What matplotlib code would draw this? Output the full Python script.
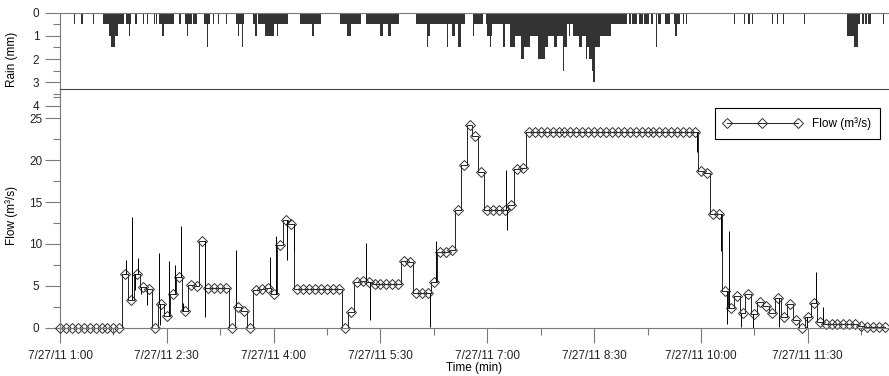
import matplotlib
matplotlib.use("Agg")
import matplotlib.pyplot as plt
import numpy as np
from matplotlib.ticker import MultipleLocator, FuncFormatter
from datetime import datetime, timedelta

plt.rcParams['font.family'] = ['Liberation Sans', 'DejaVu Sans']
plt.rcParams['font.size'] = 8

start = datetime(2011, 7, 27, 1, 0)
t_end = 698.4  # minutes after 1:00 shown on the axis

# flow (m3/s), one value every 5 min from 1:00
flow = [0, 0, 0, 0, 0, 0, 0, 0, 0, 0, 0,
        6.4, 3.3, 6.4, 4.8, 4.6, 0, 2.8, 1.4, 4.0, 6.0, 2.0, 5.1, 5.0, 10.3,
        4.7, 4.7, 4.7, 4.7, 0, 2.5, 2.0, 0, 4.5, 4.6, 4.7, 4.0, 9.9, 12.8, 12.4,
        4.6, 4.6, 4.6, 4.6, 4.6, 4.6, 4.6, 4.6, 0, 1.9, 5.5, 5.6, 5.4,
        5.2, 5.2, 5.2, 5.2, 5.2, 8.0, 7.8, 4.2, 4.2, 4.2, 5.5, 9.0, 9.0, 9.3,
        14.0, 19.4, 24.2, 22.9, 18.6, 14.1, 14.1, 14.1, 14.1, 14.6, 19.0, 19.1,
        23.4, 23.4, 23.4, 23.4, 23.4, 23.4, 23.4, 23.4, 23.4, 23.4,
        23.4, 23.4, 23.4, 23.4, 23.4, 23.4, 23.4, 23.4, 23.4, 23.4,
        23.4, 23.4, 23.4, 23.4, 23.4, 23.4, 23.4, 23.4, 23.4,
        18.7, 18.5, 13.6, 13.6, 4.4, 2.4, 3.8, 1.7, 4.0, 1.6, 3.1, 2.6, 1.7,
        3.5, 1.3, 2.8, 0.9, 0, 1.3, 2.9, 0.7,
        0.4, 0.4, 0.4, 0.4, 0.45, 0.5, 0.15, 0.1, 0.1, 0.1, 0.1]

# short peaks of the flow record between the 5 min values
spike_min = [56, 61, 63, 66, 68, 73, 83, 84, 92, 97, 102, 104, 122,
             148, 177, 182, 191, 197, 258, 261, 312, 317, 376, 377,
             537, 557, 562, 564, 574, 584, 606, 629, 637, 643]
spike_val = [8.1, 13.2, 4.5, 8.3, 4.0, 2.7, 8.9, 0.3, 8.0, 7.5, 12.1, 3.0, 1.3,
             9.3, 8.5, 11.0, 8.1, 9.0, 10.1, 0.9, 0.1, 10.3, 18.8, 11.7,
             21.0, 9.1, 0.5, 11.5, 0.1, 0.0, 0.1, 0.0, 6.6, 2.5]

# rain (mm per minute): start minute, end minute, depth
rain_start = [12, 18, 28, 36, 41, 43, 46, 56, 58, 63, 70, 73, 79, 81, 83, 86,
              100, 105, 107, 112, 121, 124, 129, 133, 140, 148, 150, 153,
              163, 164, 167, 173, 183, 202, 212, 236, 242, 258, 270, 276,
              300, 309, 309, 326, 330, 335, 348, 348, 359, 360, 362, 373,
              379, 383, 388, 391, 396, 403, 409, 411, 416, 419, 424, 425,
              427, 429, 432, 437, 440, 443, 444, 446, 448, 449, 451, 455, 464,
              474, 479, 482, 488, 492, 498, 502, 504, 510, 517, 518, 525, 527,
              568, 576, 580, 583, 600, 604, 609, 627,
              663, 669, 672, 676, 678, 681, 693]
rain_end = [13, 19, 29, 54, 43, 46, 49, 60, 59, 65, 71, 74, 80, 82, 96, 88,
            102, 111, 108, 115, 126, 125, 130, 134, 141, 155, 151, 154,
            166, 166, 192, 180, 184, 220, 214, 254, 245, 286, 272, 279,
            341, 312, 310, 327, 333, 338, 356, 349, 379, 364, 363, 375,
            383, 388, 391, 396, 403, 409, 411, 416, 419, 424, 425, 427,
            432, 430, 437, 440, 443, 444, 446, 448, 449, 451, 455, 464, 474,
            478, 481, 486, 491, 496, 500, 503, 506, 514, 522, 520, 526, 528,
            569, 577, 581, 584, 601, 605, 610, 628,
            672, 672, 674, 677, 680, 683, 694]
rain_mm = [0.5, 0.5, 0.5, 0.5, 1.0, 1.5, 1.0, 0.5, 1.0, 0.5, 0.5, 0.5, 0.5, 0.5, 0.5, 1.0,
           0.5, 0.5, 1.0, 0.5, 0.5, 1.5, 0.5, 0.5, 0.5, 0.5, 1.0, 1.5,
           0.5, 1.0, 0.5, 1.0, 1.0, 0.5, 1.0, 0.5, 1.0, 0.5, 1.0, 1.0,
           0.5, 1.0, 1.5, 1.5, 1.0, 1.5, 0.5, 1.0, 0.5, 1.0, 1.5, 1.5,
           1.5, 1.0, 2.0, 1.5, 1.0, 2.0, 1.5, 1.0, 1.5, 1.0, 2.5, 1.5,
           0.5, 1.0, 1.0, 1.5, 1.0, 2.0, 1.5, 2.0, 2.5, 3.0, 1.5, 1.0, 0.5,
           0.5, 0.5, 0.5, 0.5, 0.5, 0.5, 1.5, 0.5, 0.5, 0.5, 1.0, 0.5, 0.5,
           0.5, 0.5, 0.5, 0.5, 0.5, 0.5, 0.5, 0.5,
           1.0, 1.5, 0.5, 0.5, 0.5, 0.5, 0.5]

# ---- build series
t5 = np.arange(len(flow)) * 5
flow_arr = np.array(flow)
spike_t = np.array(spike_min)
spike_base = flow_arr[np.clip(np.round(spike_t / 5).astype(int), 0, len(flow) - 1)]

rain_t = np.arange(700)
rain = np.zeros(700)
for s, e, v in zip(rain_start, rain_end, rain_mm):
    rain[s:e] = np.maximum(rain[s:e], v)

grey = '#7a7a7a'
W, H = 889, 376
fig = plt.figure(figsize=(W / 100, H / 100), dpi=100)
ax_r = fig.add_axes([60 / W, 1 - 105.7 / H, 829 / W, 93.2 / H])
ax_f = fig.add_axes([60 / W, 1 - 327.7 / H, 829 / W, 238.7 / H])
ax_f.set_zorder(2)

# rain panel
ax_r.bar(rain_t[rain > 0], rain[rain > 0], width=1, align='edge',
         color='#333333', linewidth=0)
ax_r.set_xlim(0, t_end)
ax_r.set_ylim(4, 0)
ax_r.yaxis.set_major_locator(MultipleLocator(1))
ax_r.yaxis.set_minor_locator(MultipleLocator(0.5))
ax_r.set_xticks([])
for s in ['right', 'bottom']:
    ax_r.spines[s].set_visible(False)
for s in ['top', 'left']:
    ax_r.spines[s].set_color(grey)
ax_r.set_ylabel('Rain (mm)', fontsize=8.5)
ax_r.yaxis.set_label_coords(-0.051, 0.5)

# flow panel
ax_f.plot(t5, flow_arr, color='black', lw=0.6, drawstyle='steps-mid',
          marker='D', ms=5.3, mfc='none', mec='#333333',
          mew=0.7, clip_on=False, label='Flow (m³/s)')
ax_f.vlines(spike_t, spike_base, spike_val, color='black', lw=0.7)
ax_f.set_xlim(0, t_end)
ax_f.set_ylim(0, 28.5)
ax_f.yaxis.set_major_locator(MultipleLocator(5))
ax_f.yaxis.set_minor_locator(MultipleLocator(2.5))
ax_f.xaxis.set_major_locator(MultipleLocator(90))
ax_f.xaxis.set_minor_locator(MultipleLocator(45))


def fmt(v, pos):
    d = start + timedelta(minutes=float(v))
    return f"{d.month}/{d.day}/{d.year % 100} {d.hour}:{d.minute:02d}"


ax_f.xaxis.set_major_formatter(FuncFormatter(fmt))
ax_f.spines['right'].set_visible(False)
ax_f.spines['top'].set_color('#444444')
for s in ['left', 'bottom']:
    ax_f.spines[s].set_color(grey)
ax_f.set_ylabel('Flow (m³/s)', fontsize=8.5)
ax_f.yaxis.set_label_coords(-0.051, 0.47)
ax_f.set_xlabel('Time (min)', fontsize=8.5, labelpad=0)

for ax in (ax_r, ax_f):
    ax.tick_params(which='major', length=10.8, width=0.8, color=grey,
                   labelcolor='#222222', labelsize=8.5)
    ax.tick_params(which='minor', length=5, width=0.8, color=grey)
    ax.tick_params(axis='y', pad=6.5)
    for lab in ax.get_yticklabels():
        lab.set_horizontalalignment('center')
ax_f.tick_params(axis='x', pad=5)

leg = ax_f.legend(loc='upper right', bbox_to_anchor=(0.989, 0.919),
                  borderaxespad=0, numpoints=3, handlelength=6.6,
                  handletextpad=0.9, borderpad=0.75, fancybox=False,
                  edgecolor='black', framealpha=1, fontsize=8.5)
leg.get_frame().set_linewidth(0.8)

fig.savefig('out.png', dpi=100)
